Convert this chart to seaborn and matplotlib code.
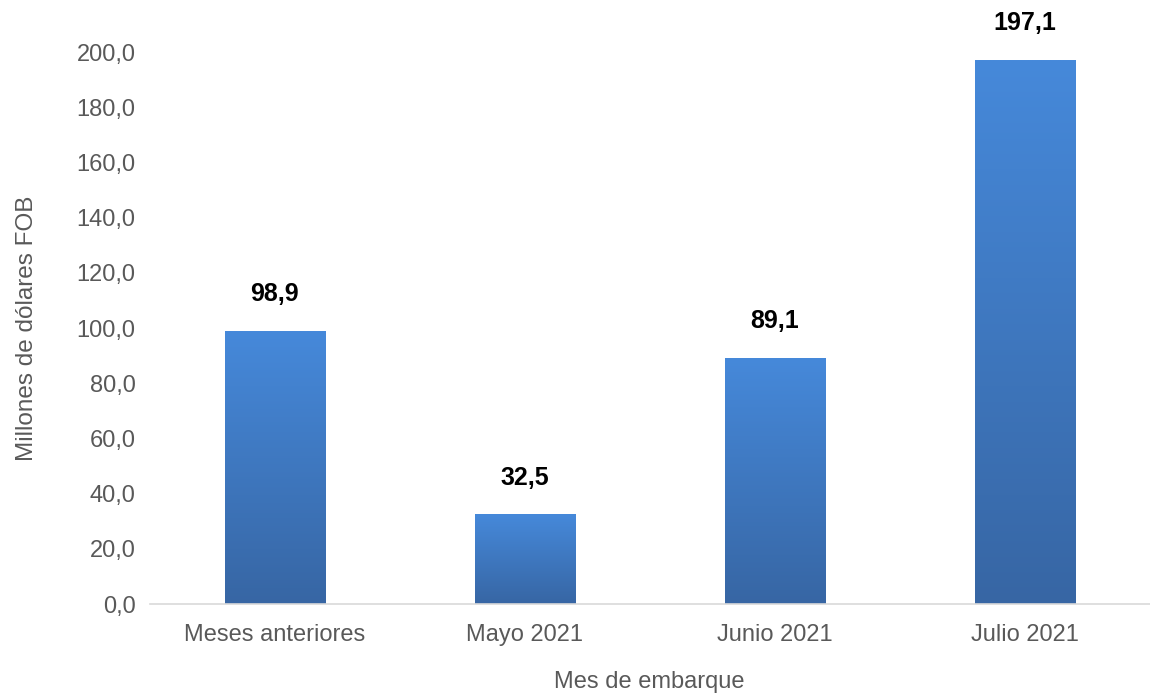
import numpy as np
import pandas as pd
import matplotlib
matplotlib.use("Agg")
import matplotlib.pyplot as plt
import seaborn as sns
from matplotlib.colors import LinearSegmentedColormap

# Datos
meses = ["Meses anteriores", "Mayo 2021", "Junio 2021", "Julio 2021"]
valores = [98.9, 32.5, 89.1, 197.1]
etiquetas = ["98,9", "32,5", "89,1", "197,1"]
yticks = [0, 20, 40, 60, 80, 100, 120, 140, 160, 180, 200]

df = pd.DataFrame({"mes": meses, "valor": valores})

sns.set_theme(style="white")
plt.rcParams["font.family"] = ["Liberation Sans", "DejaVu Sans"]

fig = plt.figure(figsize=(11.5, 6.96), dpi=100)
ax = fig.add_axes([0.13, 0.132, 0.87, 0.793])

sns.barplot(data=df, x="mes", y="valor", color="#4384d4", width=0.4, ax=ax,
            saturation=1, edgecolor="none")

# degradado vertical en cada barra
cmap = LinearSegmentedColormap.from_list("azul", ["#3766a4", "#4689da"])
grad = np.linspace(0, 1, 256).reshape(-1, 1)
ax.set_ylim(0, 200)
ax.set_xlim(-0.5, 3.5)
for bar in ax.patches:
    x0, y0 = bar.get_x(), bar.get_y()
    w, h = bar.get_width(), bar.get_height()
    im = ax.imshow(grad, cmap=cmap, origin="lower", aspect="auto",
                   extent=[x0, x0 + w, y0, y0 + h], zorder=bar.get_zorder() + 0.1)
    im.set_clip_path(bar)

for i, (v, t) in enumerate(zip(valores, etiquetas)):
    ax.text(i, v + 9, t, ha="center", va="bottom", fontsize=18,
            fontweight="bold", color="black", clip_on=False)

ax.set_xlim(-0.5, 3.5)
ax.set_ylim(0, 200)
ax.set_yticks(yticks)
ax.set_yticklabels([f"{y:.1f}".replace(".", ",") for y in yticks])
ax.tick_params(axis="both", labelsize=17, labelcolor="#595959", length=0)
ax.tick_params(axis="x", pad=14)
ax.tick_params(axis="y", pad=10)

for s in ["top", "right", "left"]:
    ax.spines[s].set_visible(False)
ax.spines["bottom"].set_color("#d9d9d9")
ax.spines["bottom"].set_linewidth(1.2)

ax.set_xlabel("Mes de embarque", fontsize=17, color="#595959", labelpad=18)
ax.set_ylabel("Millones de dólares FOB", fontsize=17.5, color="#595959", labelpad=28)

fig.savefig("out.png", dpi=100)
